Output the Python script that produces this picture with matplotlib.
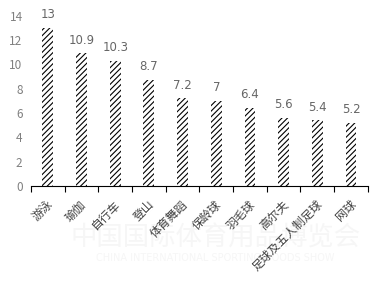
import matplotlib
matplotlib.use('Agg')
import matplotlib.pyplot as plt
import matplotlib.transforms as mtransforms
import numpy as np

plt.rcParams['font.family'] = ['Noto Sans CJK SC', 'DejaVu Sans']
plt.rcParams['hatch.linewidth'] = 0.8

sports = ['游泳', '瑜伽', '自行车', '登山', '体育舞蹈', '保龄球', '羽毛球', '高尔夫', '足球及五人制足球', '网球']
values = [13, 10.9, 10.3, 8.7, 7.2, 7, 6.4, 5.6, 5.4, 5.2]
value_labels = ['13', '10.9', '10.3', '8.7', '7.2', '7', '6.4', '5.6', '5.4', '5.2']

fig = plt.figure(figsize=(3.82, 2.84), dpi=100)
ax = fig.add_axes([0.081, 0.345, 0.882, 0.60])

x = np.arange(len(sports))
bars = ax.bar(x, values, 0.32, color='white', edgecolor='black', linewidth=0, hatch='//////')

for xi, v, lab in zip(x, values, value_labels):
    ax.text(xi, v + 0.55, lab, ha='center', va='bottom', fontsize=8.5, color='#666666',
            family='DejaVu Sans')

ax.set_xlim(-0.5, len(sports) - 0.5)
ax.set_ylim(0, 14)
ax.set_yticks(range(0, 15, 2))
ax.tick_params(axis='y', length=0, labelsize=8.5, labelcolor='#808080', pad=6)

ax.set_xticks(np.arange(len(sports) + 1) - 0.5, minor=False)
ax.set_xticklabels([])
ax.set_xticks(x, minor=True)
ax.set_xticklabels(sports, minor=True, rotation=45, ha='right', va='center',
                   rotation_mode='anchor', fontsize=8.5, color='#404040')
ax.tick_params(axis='x', which='major', length=4, direction='out', color='black')
ax.tick_params(axis='x', which='minor', length=0, pad=12)
shift = mtransforms.ScaledTranslation(3 / 100, 0, fig.dpi_scale_trans)
for t in ax.get_xticklabels(minor=True):
    t.set_transform(t.get_transform() + shift)

for s in ['top', 'right', 'left']:
    ax.spines[s].set_visible(False)
ax.spines['bottom'].set_color('black')

# faint watermark
fig.text(0.563, 0.16, '中国国际体育用品博览会', ha='center', va='center', fontsize=19,
         color='#f6f6f6', zorder=-1)
fig.text(0.563, 0.09, 'CHINA INTERNATIONAL SPORTING GOODS SHOW', ha='center', va='center',
         fontsize=7, color='#f6f6f6', zorder=-1, family='DejaVu Sans')

fig.savefig('out.png', dpi=100)
